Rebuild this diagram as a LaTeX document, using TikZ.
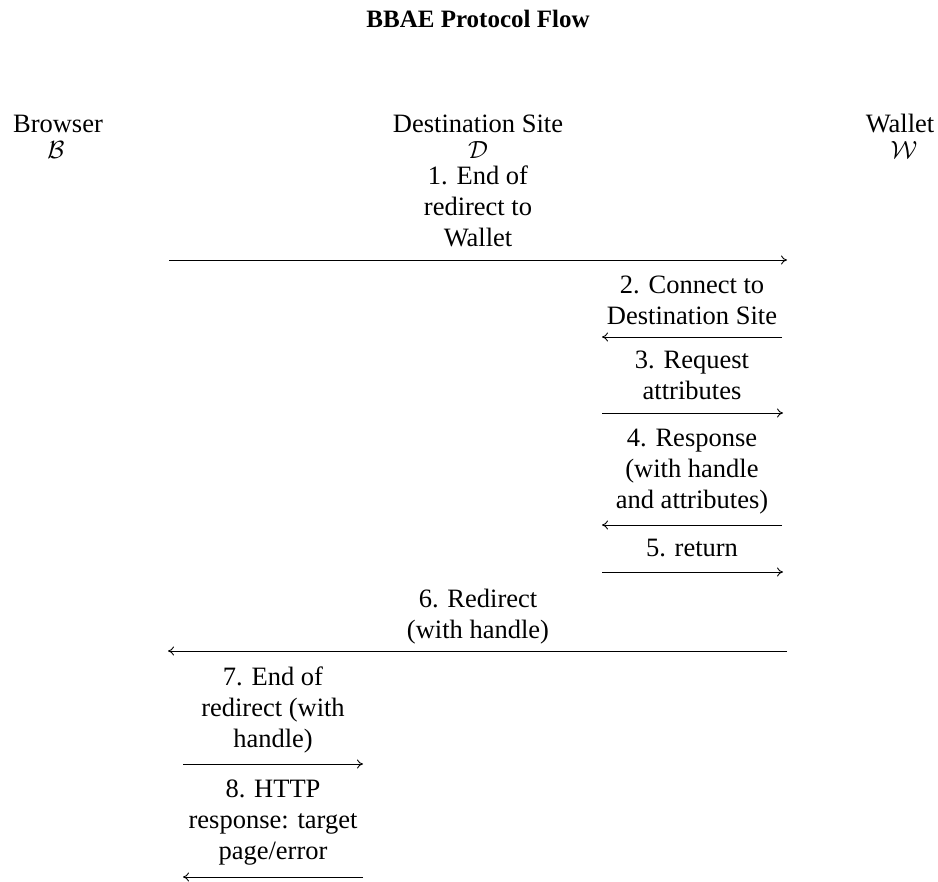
\documentclass[tikz,border=0pt]{standalone}
\usepackage{fontspec}
\setmainfont{Liberation Serif}
\usetikzlibrary{arrows.meta}

\begin{document}
\begin{tikzpicture}[x=1pt,y=-1pt,
  every node/.style={inner sep=0pt, font=\fontsize{26.5}{31}\selectfont},
  head/.style={anchor=base},
  msg/.style={align=center, anchor=south, text depth=0pt},
  flow/.style={line width=0.9pt, -{To[length=6pt,width=9pt]}},
]
\useasboundingbox (0,0) rectangle (938,882);

% title
\node[anchor=base, font=\fontsize{25}{30}\selectfont\bfseries] (title) at (478,28) {BBAE Protocol Flow};

% participants
\node[head] (hB) at (58,133) {Browser};
\node[head] (sB) at (56,159) {$\mathcal{B}$};
\node[head] (hD) at (478,133) {Destination Site};
\node[head] (sD) at (478,159) {$\mathcal{D}$};
\node[head] (hW) at (900,133) {Wallet};
\node[head] (sW) at (904,159) {$\mathcal{W}$};

% arrow end points
\coordinate (b1) at (169,260); \coordinate (w1) at (787,260);
\coordinate (d2) at (602,337); \coordinate (w2) at (782,337);
\coordinate (d3) at (602,413); \coordinate (w3) at (783,413);
\coordinate (d4) at (602,525); \coordinate (w4) at (782,525);
\coordinate (d5) at (602,572); \coordinate (w5) at (783,572);
\coordinate (b6) at (168,651); \coordinate (w6) at (787,651);
\coordinate (b7) at (183,764); \coordinate (d7) at (363,764);
\coordinate (b8) at (183,877); \coordinate (d8) at (363,877);

% messages
\node[msg] (m1) at (478,247) {1. End of\\redirect to\\Wallet};
\node[msg] (m2) at (692,325) {2. Connect to\\Destination Site};
\node[msg] (m3) at (692,400) {3. Request\\attributes};
\node[msg] (m4) at (692,509) {4. Response\\(with handle\\and attributes)};
\node[msg] (m5) at (692,557) {5. return};
\node[msg] (m6) at (478,639) {6. Redirect\\(with handle)};
\node[msg] (m7) at (273,748) {7. End of\\redirect (with\\handle)};
\node[msg] (m8) at (273,860) {8. HTTP\\response: target\\page/error};

\draw[flow] (b1) -- (w1);
\draw[flow] (w2) -- (d2);
\draw[flow] (d3) -- (w3);
\draw[flow] (w4) -- (d4);
\draw[flow] (d5) -- (w5);
\draw[flow] (w6) -- (b6);
\draw[flow] (b7) -- (d7);
\draw[flow] (d8) -- (b8);
\end{tikzpicture}
\end{document}
